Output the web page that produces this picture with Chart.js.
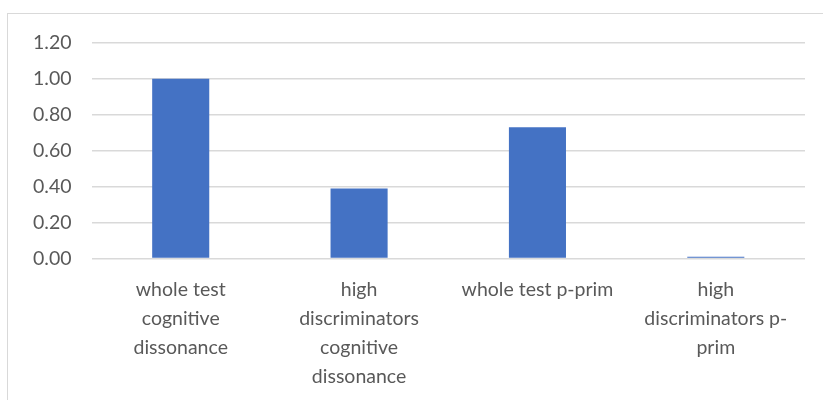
<!DOCTYPE html>
<html>
<head>
<meta charset="utf-8">
<script src="https://cdn.jsdelivr.net/npm/chart.js@4"></script>
<style>
  body { margin: 0; background: #fff; }
  #frame { position: absolute; left: 7px; top: 13px; width: 830px; height: 400px; border: 1px solid #d9d9d9; box-sizing: border-box; }
  #box { position: absolute; left: 8px; top: 11px; width: 815px; height: 389px; }
</style>
</head>
<body>
<div id="frame"></div>
<div id="box"><canvas id="barChart"></canvas></div>
<script>
// categories (wrapped like the original)
var categories = [
    ['whole test', 'cognitive', 'dissonance'],
    ['high', 'discriminators', 'cognitive', 'dissonance'],
    ['whole test p-prim'],
    ['high', 'discriminators p-', 'prim']
];
var values = [1.00, 0.39, 0.73, 0.01];
var yTicks = [0, 0.2, 0.4, 0.6, 0.8, 1.0, 1.2];

var barchart = document.getElementById('barChart');

let barChart = new Chart(barchart, {
    type: 'bar',
    data: {
        labels: categories,
        datasets: [
            {
                label: 'value',
                backgroundColor: '#4472C4',
                borderWidth: 0,
                data: values,
                barPercentage: 0.64,
                categoryPercentage: 0.5
            }
        ]
    },
    options: {
        responsive: true,
        maintainAspectRatio: false,
        animation: false,
        layout: { padding: { left: 5, right: 18, top: 10, bottom: 0 } },
        plugins: {
            legend: { display: false },
            tooltip: { enabled: false }
        },
        scales: {
            x: {
                grid: { display: false },
                border: { display: false },
                ticks: {
                    color: '#595959',
                    font: { family: 'Lato', size: 19.5, lineHeight: 1.48 },
                    maxRotation: 0,
                    autoSkip: false,
                    padding: 9
                }
            },
            y: {
                min: 0,
                max: 1.2,
                border: { display: false },
                grid: { color: '#d9d9d9', lineWidth: 1.5, drawTicks: false },
                afterBuildTicks: function(axis) {
                    axis.ticks = yTicks.map(function(v) { return { value: v }; });
                },
                ticks: {
                    color: '#595959',
                    font: { family: 'Lato', size: 19.5 },
                    padding: 20,
                    callback: function(v) { return Number(v).toFixed(2); }
                }
            }
        }
    }
});
</script>
</body>
</html>
